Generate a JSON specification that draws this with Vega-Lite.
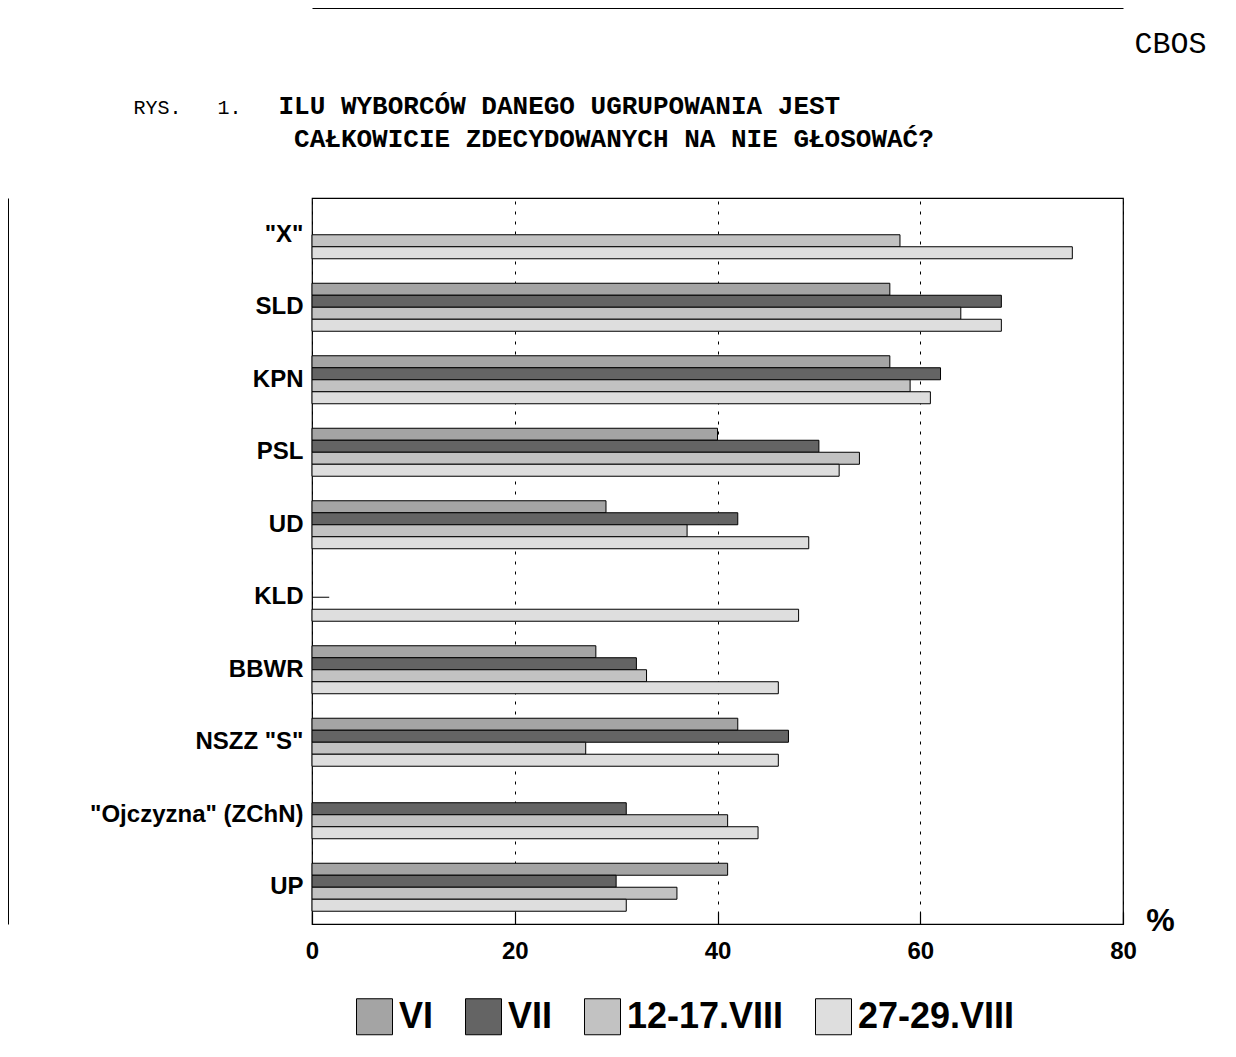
{
  "$schema": "https://vega.github.io/schema/vega-lite/v6.json",
  "width": 811,
  "height": 726,
  "autosize": "none",
  "padding": {"left": 312, "top": 198, "right": 113, "bottom": 133},
  "background": "white",
  "config": {
    "view": {"stroke": "black", "strokeWidth": 1.2},
    "legend": {"padding": 0}
  },
  "datasets": {
    "bars": [
      {"party": "\"X\"", "series": "12-17.VIII", "value": 58},
      {"party": "\"X\"", "series": "27-29.VIII", "value": 75},
      {"party": "SLD", "series": "VI", "value": 57},
      {"party": "SLD", "series": "VII", "value": 68},
      {"party": "SLD", "series": "12-17.VIII", "value": 64},
      {"party": "SLD", "series": "27-29.VIII", "value": 68},
      {"party": "KPN", "series": "VI", "value": 57},
      {"party": "KPN", "series": "VII", "value": 62},
      {"party": "KPN", "series": "12-17.VIII", "value": 59},
      {"party": "KPN", "series": "27-29.VIII", "value": 61},
      {"party": "PSL", "series": "VI", "value": 40},
      {"party": "PSL", "series": "VII", "value": 50},
      {"party": "PSL", "series": "12-17.VIII", "value": 54},
      {"party": "PSL", "series": "27-29.VIII", "value": 52},
      {"party": "UD", "series": "VI", "value": 29},
      {"party": "UD", "series": "VII", "value": 42},
      {"party": "UD", "series": "12-17.VIII", "value": 37},
      {"party": "UD", "series": "27-29.VIII", "value": 49},
      {"party": "KLD", "series": "27-29.VIII", "value": 48},
      {"party": "BBWR", "series": "VI", "value": 28},
      {"party": "BBWR", "series": "VII", "value": 32},
      {"party": "BBWR", "series": "12-17.VIII", "value": 33},
      {"party": "BBWR", "series": "27-29.VIII", "value": 46},
      {"party": "NSZZ \"S\"", "series": "VI", "value": 42},
      {"party": "NSZZ \"S\"", "series": "VII", "value": 47},
      {"party": "NSZZ \"S\"", "series": "12-17.VIII", "value": 27},
      {"party": "NSZZ \"S\"", "series": "27-29.VIII", "value": 46},
      {"party": "\"Ojczyzna\" (ZChN)", "series": "VII", "value": 31},
      {"party": "\"Ojczyzna\" (ZChN)", "series": "12-17.VIII", "value": 41},
      {"party": "\"Ojczyzna\" (ZChN)", "series": "27-29.VIII", "value": 44},
      {"party": "UP", "series": "VI", "value": 41},
      {"party": "UP", "series": "VII", "value": 30},
      {"party": "UP", "series": "12-17.VIII", "value": 36},
      {"party": "UP", "series": "27-29.VIII", "value": 31}
    ],
    "marker": [
      {"party": "KLD", "start": 0, "end": 1.7}
    ]
  },
  "layer": [
    {
      "data": {"name": "bars"},
      "mark": {"type": "bar", "stroke": "black", "strokeWidth": 1},
      "encoding": {
        "y": {
          "field": "party",
          "type": "nominal",
          "scale": {
            "domain": ["\"X\"", "SLD", "KPN", "PSL", "UD", "KLD", "BBWR", "NSZZ \"S\"", "\"Ojczyzna\" (ZChN)", "UP"],
            "paddingInner": 0.338,
            "paddingOuter": 0.176
          },
          "axis": {
            "orient": "left",
            "domain": false,
            "ticks": false,
            "grid": false,
            "labelFont": "Liberation Sans",
            "labelFontWeight": "bold",
            "labelFontSize": 24,
            "labelColor": "black",
            "labelPadding": 9,
            "labelLimit": 300,
            "title": "CBOS",
            "titleFont": "Liberation Mono",
            "titleFontSize": 30,
            "titleFontWeight": "normal",
            "titleColor": "black",
            "titleAngle": 0,
            "titleX": 858,
            "titleY": -146,
            "titleAlign": "center",
            "titleBaseline": "alphabetic"
          }
        },
        "yOffset": {
          "field": "series",
          "type": "nominal",
          "scale": {"domain": ["VI", "VII", "12-17.VIII", "27-29.VIII"], "paddingInner": 0, "paddingOuter": 0}
        },
        "x": {
          "field": "value",
          "type": "quantitative",
          "scale": {"domain": [0, 80], "nice": false},
          "axis": {
            "orient": "bottom",
            "values": [0, 20, 40, 60, 80],
            "grid": true,
            "gridDash": [3, 7],
            "gridColor": "black",
            "gridOpacity": 1,
            "gridWidth": 1,
            "domain": false,
            "ticks": true,
            "tickSize": -12,
            "tickColor": "black",
            "tickWidth": 1.2,
            "labelFont": "Liberation Sans",
            "labelFontWeight": "bold",
            "labelFontSize": 24,
            "labelColor": "black",
            "labelPadding": 27,
            "labelFlush": false,
            "title": "%",
            "titleFont": "Liberation Sans",
            "titleFontSize": 32,
            "titleFontWeight": "bold",
            "titleColor": "black",
            "titleX": 848,
            "titleY": -4,
            "titleAlign": "center",
            "titleBaseline": "middle",
            "titleAngle": 0
          }
        },
        "fill": {
          "field": "series",
          "type": "nominal",
          "scale": {
            "domain": ["VI", "VII", "12-17.VIII", "27-29.VIII"],
            "range": ["#a4a4a4", "#646464", "#c2c2c2", "#dedede"]
          },
          "legend": {
            "orient": "none",
            "legendX": 44,
            "legendY": 800,
            "direction": "horizontal",
            "title": null,
            "symbolType": "square",
            "symbolSize": 1296,
            "symbolStrokeColor": "black",
            "symbolStrokeWidth": 1,
            "symbolOpacity": 1,
            "labelFont": "Liberation Sans",
            "labelFontWeight": "bold",
            "labelFontSize": 36,
            "labelColor": "black",
            "labelOffset": 6,
            "columnPadding": 29,
            "labelLimit": 400
          }
        }
      }
    },
    {
      "data": {"name": "marker"},
      "mark": {"type": "rule", "stroke": "black", "strokeWidth": 1},
      "encoding": {
        "y": {
          "field": "party",
          "type": "nominal",
          "scale": {
            "domain": ["\"X\"", "SLD", "KPN", "PSL", "UD", "KLD", "BBWR", "NSZZ \"S\"", "\"Ojczyzna\" (ZChN)", "UP"],
            "paddingInner": 0.338,
            "paddingOuter": 0.176
          },
          "axis": {
            "orient": "left",
            "offset": 304,
            "domain": true,
            "domainColor": "black",
            "domainWidth": 1,
            "ticks": false,
            "labels": false,
            "grid": false,
            "title": "RYS.\u00a0\u00a0\u00a01.",
            "titleFont": "Liberation Mono",
            "titleFontSize": 20,
            "titleFontWeight": "normal",
            "titleColor": "black",
            "titleAngle": 0,
            "titleX": 125,
            "titleY": -85,
            "titleAlign": "left",
            "titleBaseline": "alphabetic"
          }
        },
        "x": {
          "field": "start",
          "type": "quantitative",
          "scale": {"domain": [0, 80], "nice": false},
          "axis": {
            "orient": "top",
            "offset": 190,
            "domain": true,
            "domainColor": "black",
            "domainWidth": 1,
            "ticks": false,
            "labels": false,
            "grid": false,
            "title": ["ILU WYBORCÓW DANEGO UGRUPOWANIA JEST", "\u200b\u00a0CAŁKOWICIE ZDECYDOWANYCH NA NIE GŁOSOWAĆ?"],
            "titleFont": "Liberation Mono",
            "titleFontSize": 26,
            "titleFontWeight": "bold",
            "titleColor": "black",
            "titleLineHeight": 33,
            "titleX": -34,
            "titleY": 105,
            "titleAlign": "left",
            "titleAnchor": "start",
            "titleBaseline": "alphabetic",
            "titleAngle": 0
          }
        },
        "x2": {"field": "end"}
      }
    }
  ],
  "resolve": {"axis": {"x": "independent", "y": "independent"}}
}
